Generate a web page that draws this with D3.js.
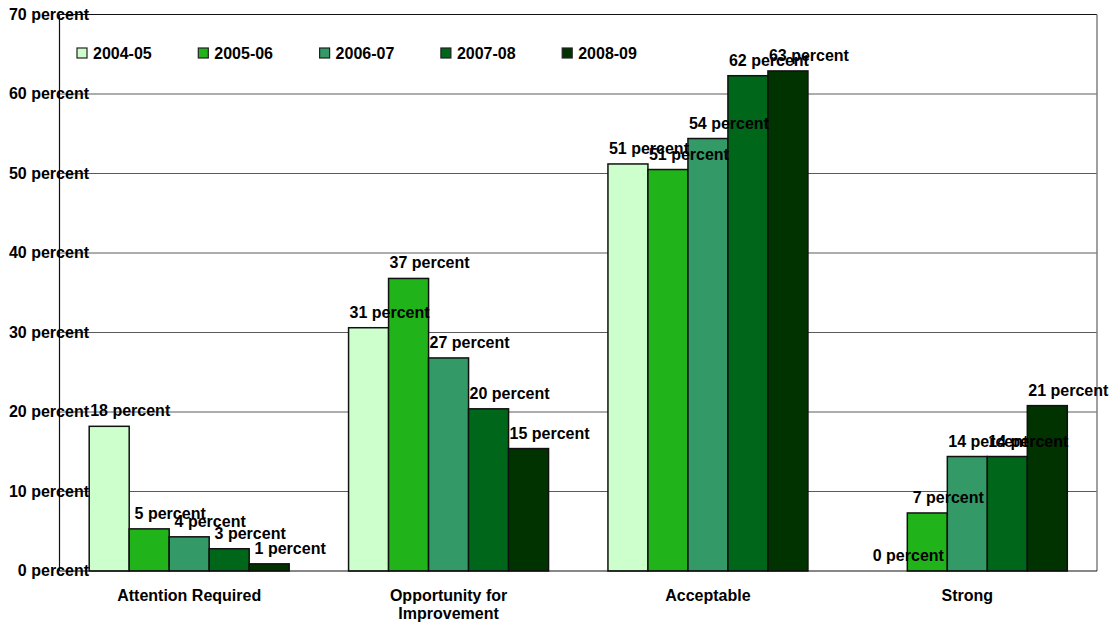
<!DOCTYPE html>
<html>
<head>
<meta charset="utf-8">
<script src="https://cdn.jsdelivr.net/npm/d3@7.9.0/dist/d3.min.js"></script>
<style>
  html, body { margin: 0; padding: 0; background: #fff; }
  svg text { font-family: Arial, "Liberation Sans", sans-serif; font-weight: bold; fill: #000; }
</style>
</head>
<body>
<div id="chart"></div>
<script>
// categories & series
const categories = [['Attention Required'], ['Opportunity for', 'Improvement'], ['Acceptable'], ['Strong']];
const years = ['2004-05', '2005-06', '2006-07', '2007-08', '2008-09'];
const colors = ['#ccffcc', '#21b41a', '#339966', '#00661a', '#003300'];

// values per year, one entry per category
const v2004 = [18.2, 30.6, 51.2, 0];
const v2005 = [5.3, 36.8, 50.5, 7.3];
const v2006 = [4.3, 26.8, 54.4, 14.4];
const v2007 = [2.8, 20.4, 62.3, 14.4];
const v2008 = [0.9, 15.4, 62.9, 20.8];
const series = [v2004, v2005, v2006, v2007, v2008];

const yTicks = [0, 10, 20, 30, 40, 50, 60, 70];

const width = 1114, height = 625;
const margin = { top: 14.5, right: 17, bottom: 54, left: 59.5 };
const fs = '16px';

const svg = d3.select('#chart').append('svg')
  .attr('width', width)
  .attr('height', height);

const x0 = d3.scaleBand()
  .domain(d3.range(categories.length))
  .range([margin.left, width - margin.right])
  .paddingInner(0.229)
  .paddingOuter(0.1145);

const x1 = d3.scaleBand()
  .domain(d3.range(years.length))
  .range([0, x0.bandwidth()]);

const y = d3.scaleLinear()
  .domain([0, 70])
  .range([height - margin.bottom, margin.top]);

// gridlines
svg.append('g')
  .selectAll('line')
  .data(yTicks.filter(d => d > 0 && d < 70))
  .join('line')
  .attr('x1', margin.left)
  .attr('x2', width - margin.right)
  .attr('y1', d => y(d))
  .attr('y2', d => y(d))
  .attr('stroke', '#5a5a5a')
  .attr('stroke-width', 1);

// frame: top black, right gray
svg.append('line')
  .attr('x1', margin.left).attr('x2', width - margin.right)
  .attr('y1', y(70)).attr('y2', y(70))
  .attr('stroke', '#111').attr('stroke-width', 1.2);
svg.append('line')
  .attr('x1', width - margin.right).attr('x2', width - margin.right)
  .attr('y1', y(70)).attr('y2', y(0))
  .attr('stroke', '#808080').attr('stroke-width', 1.5);

// bars
const groups = svg.append('g')
  .selectAll('g')
  .data(categories.map((c, i) => i))
  .join('g')
  .attr('transform', i => `translate(${x0(i)},0)`);

groups.selectAll('rect')
  .data(i => series.map((s, k) => ({ k, v: s[i] })))
  .join('rect')
  .filter(d => d.v > 0)
  .attr('x', d => x1(d.k))
  .attr('y', d => y(d.v))
  .attr('width', x1.bandwidth())
  .attr('height', d => y(0) - y(d.v))
  .attr('fill', d => colors[d.k])
  .attr('stroke', '#111')
  .attr('stroke-width', 1.5);

// axes lines
svg.append('line')
  .attr('x1', margin.left).attr('x2', margin.left)
  .attr('y1', y(70)).attr('y2', y(0))
  .attr('stroke', '#111').attr('stroke-width', 1.2);
svg.append('line')
  .attr('x1', margin.left).attr('x2', width - margin.right)
  .attr('y1', y(0)).attr('y2', y(0))
  .attr('stroke', '#111').attr('stroke-width', 1.2);

// y labels
svg.append('g')
  .selectAll('text')
  .data(yTicks)
  .join('text')
  .attr('x', 89)
  .attr('y', d => y(d) + 1)
  .attr('text-anchor', 'end')
  .attr('dominant-baseline', 'middle')
  .style('font-size', fs)
  .text(d => `${d} percent`);

// value labels
groups.selectAll('text.val')
  .data(i => series.map((s, k) => ({ k, v: s[i] })))
  .join('text')
  .attr('class', 'val')
  .attr('x', d => x1(d.k) + x1.bandwidth() + 1)
  .attr('y', d => y(d.v) - 10)
  .attr('text-anchor', 'middle')
  .style('font-size', fs)
  .text(d => `${Math.round(d.v)} percent`);

// category labels
svg.append('g')
  .selectAll('text')
  .data(categories)
  .join('text')
  .attr('x', (c, i) => x0(i) + x0.bandwidth() / 2)
  .attr('y', 601)
  .attr('text-anchor', 'middle')
  .style('font-size', fs)
  .selectAll('tspan')
  .data(c => c)
  .join('tspan')
  .attr('x', function () { return this.parentNode.getAttribute('x'); })
  .attr('dy', (d, j) => j === 0 ? 0 : 18)
  .text(d => d);

// legend
const legend = svg.append('g')
  .selectAll('g')
  .data(years)
  .join('g')
  .attr('transform', (d, i) => `translate(${77 + i * 121.3},48)`);

legend.append('rect')
  .attr('width', 10)
  .attr('height', 10)
  .attr('fill', (d, i) => colors[i])
  .attr('stroke', '#222')
  .attr('stroke-width', 1.2);

legend.append('text')
  .attr('x', 16)
  .attr('y', 10.5)
  .style('font-size', fs)
  .text(d => d);
</script>
</body>
</html>
